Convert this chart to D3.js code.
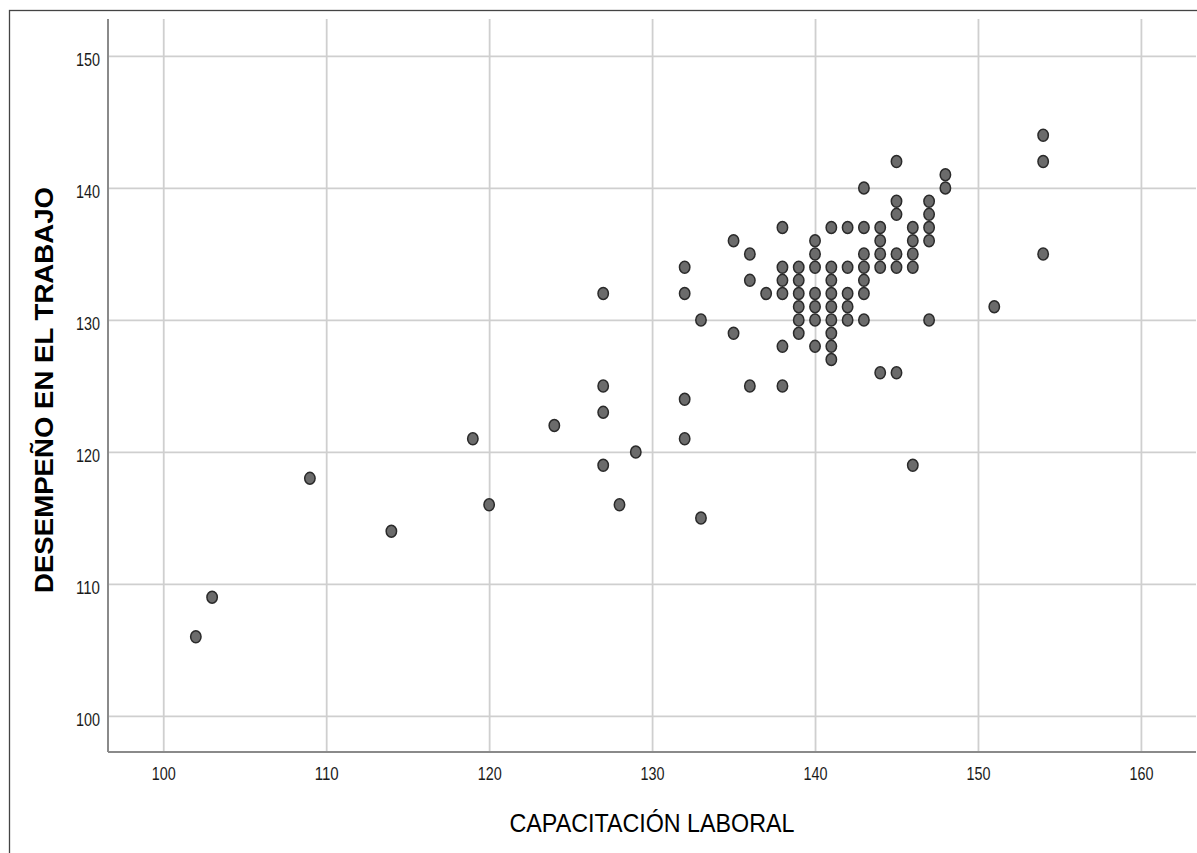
<!DOCTYPE html>
<html>
<head>
<meta charset="utf-8">
<script src="https://cdn.jsdelivr.net/npm/d3@7"></script>
<style>
  body { margin: 0; background: #fff; }
  text { font-family: "Liberation Sans", Arial, sans-serif; }
</style>
</head>
<body>
<svg class="svgChart"></svg>
<script>
// chart values
const capacitacion = [
  102, 103, 109, 114, 119, 120, 124,
  127, 127, 127, 127,
  128, 129,
  132, 132, 132, 132,
  133, 133,
  135, 135,
  136, 136, 136,
  137,
  138, 138, 138, 138, 138, 138,
  139, 139, 139, 139, 139, 139,
  140, 140, 140, 140, 140, 140, 140,
  141, 141, 141, 141, 141, 141, 141, 141, 141,
  142, 142, 142, 142, 142,
  143, 143, 143, 143, 143, 143, 143,
  144, 144, 144, 144, 144,
  145, 145, 145, 145, 145, 145,
  146, 146, 146, 146, 146,
  147, 147, 147, 147, 147,
  148, 148,
  151,
  154, 154, 154
];
const desempeno = [
  106, 109, 118, 114, 121, 116, 122,
  132, 125, 123, 119,
  116, 120,
  134, 132, 124, 121,
  130, 115,
  136, 129,
  135, 133, 125,
  132,
  137, 134, 133, 132, 128, 125,
  134, 133, 132, 131, 130, 129,
  136, 135, 134, 132, 131, 130, 128,
  137, 134, 133, 132, 131, 130, 129, 128, 127,
  137, 134, 132, 131, 130,
  140, 137, 135, 134, 133, 132, 130,
  137, 136, 135, 134, 126,
  142, 139, 138, 135, 134, 126,
  137, 136, 135, 134, 119,
  139, 138, 137, 136, 130,
  141, 140,
  131,
  144, 142, 135
];
const xTicks = [100, 110, 120, 130, 140, 150, 160];
const yTicks = [100, 110, 120, 130, 140, 150];
const xTitle = 'CAPACITACIÓN LABORAL';
const yTitle = 'DESEMPEÑO EN EL TRABAJO';

const W = 1197, H = 853;
const plot = { left: 108, right: 1196, top: 19, bottom: 752 };

const points = capacitacion.map((d, i) => ({ x: d, y: desempeno[i] }));

const svg = d3.select('.svgChart')
  .attr('width', W)
  .attr('height', H);

// outer frame (only left/top edges fall inside the picture)
svg.append('rect')
  .attr('x', 9.5)
  .attr('y', 10.5)
  .attr('width', 1400)
  .attr('height', 1000)
  .attr('fill', 'none')
  .attr('stroke', '#444')
  .attr('stroke-width', 1.3);

const xScale = d3.scaleLinear()
  .domain([96.61, 163.38])
  .range([plot.left, plot.right]);

const yScale = d3.scaleLinear()
  .domain([97.27, 152.8])
  .range([plot.bottom, plot.top]);

// grid lines
svg.append('g')
  .attr('class', 'xGrid')
  .attr('transform', `translate(0,${plot.bottom})`)
  .call(d3.axisBottom(xScale).tickValues(xTicks)
    .tickSize(-(plot.bottom - plot.top)).tickFormat(''))
  .call(g => g.select('.domain').remove())
  .call(g => g.selectAll('line').attr('stroke', '#cfcfcf').attr('stroke-width', 1.8));

svg.append('g')
  .attr('class', 'yGrid')
  .attr('transform', `translate(${plot.left},0)`)
  .call(d3.axisLeft(yScale).tickValues(yTicks)
    .tickSize(-(plot.right - plot.left)).tickFormat(''))
  .call(g => g.select('.domain').remove())
  .call(g => g.selectAll('line').attr('stroke', '#cfcfcf').attr('stroke-width', 1.8));

// axis lines
svg.append('line')
  .attr('x1', plot.left).attr('x2', plot.right)
  .attr('y1', plot.bottom).attr('y2', plot.bottom)
  .attr('stroke', '#8a8a8a').attr('stroke-width', 2);
svg.append('line')
  .attr('x1', plot.left).attr('x2', plot.left)
  .attr('y1', plot.top).attr('y2', plot.bottom)
  .attr('stroke', '#8a8a8a').attr('stroke-width', 2);

// tick labels
svg.append('g')
  .attr('class', 'xAxis')
  .attr('transform', `translate(0,${plot.bottom})`)
  .call(d3.axisBottom(xScale).tickValues(xTicks).tickSize(0).tickPadding(0))
  .call(g => g.select('.domain').remove())
  .selectAll('text')
    .attr('y', 28)
    .attr('dy', 0)
    .attr('fill', '#1a1a1a')
    .attr('font-size', 18)
    .attr('textLength', 24)
    .attr('lengthAdjust', 'spacingAndGlyphs');

svg.append('g')
  .attr('class', 'yAxis')
  .attr('transform', `translate(${plot.left},0)`)
  .call(d3.axisLeft(yScale).tickValues(yTicks).tickSize(0).tickPadding(0))
  .call(g => g.select('.domain').remove())
  .selectAll('text')
    .attr('x', -8)
    .attr('dy', 0)
    .attr('y', 10)
    .attr('fill', '#1a1a1a')
    .attr('font-size', 18)
    .attr('textLength', 24)
    .attr('lengthAdjust', 'spacingAndGlyphs');

// points
svg.append('g')
  .attr('class', 'points')
  .selectAll('ellipse')
  .data(points)
  .enter()
  .append('ellipse')
    .attr('cx', d => xScale(d.x))
    .attr('cy', d => yScale(d.y))
    .attr('rx', 5.2)
    .attr('ry', 6)
    .attr('fill', '#6b6b6b')
    .attr('stroke', '#2a2a2a')
    .attr('stroke-width', 1.5);

// axis titles
svg.append('text')
  .attr('class', 'xTitle')
  .attr('x', 652)
  .attr('y', 832)
  .attr('text-anchor', 'middle')
  .attr('font-size', 26)
  .attr('fill', '#000')
  .attr('textLength', 285)
  .attr('lengthAdjust', 'spacingAndGlyphs')
  .text(xTitle);

svg.append('text')
  .attr('class', 'yTitle')
  .attr('transform', 'translate(53,390) rotate(-90)')
  .attr('text-anchor', 'middle')
  .attr('font-size', 25)
  .attr('font-weight', 'bold')
  .attr('fill', '#000')
  .attr('textLength', 406)
  .attr('lengthAdjust', 'spacingAndGlyphs')
  .text(yTitle);
</script>
</body>
</html>
